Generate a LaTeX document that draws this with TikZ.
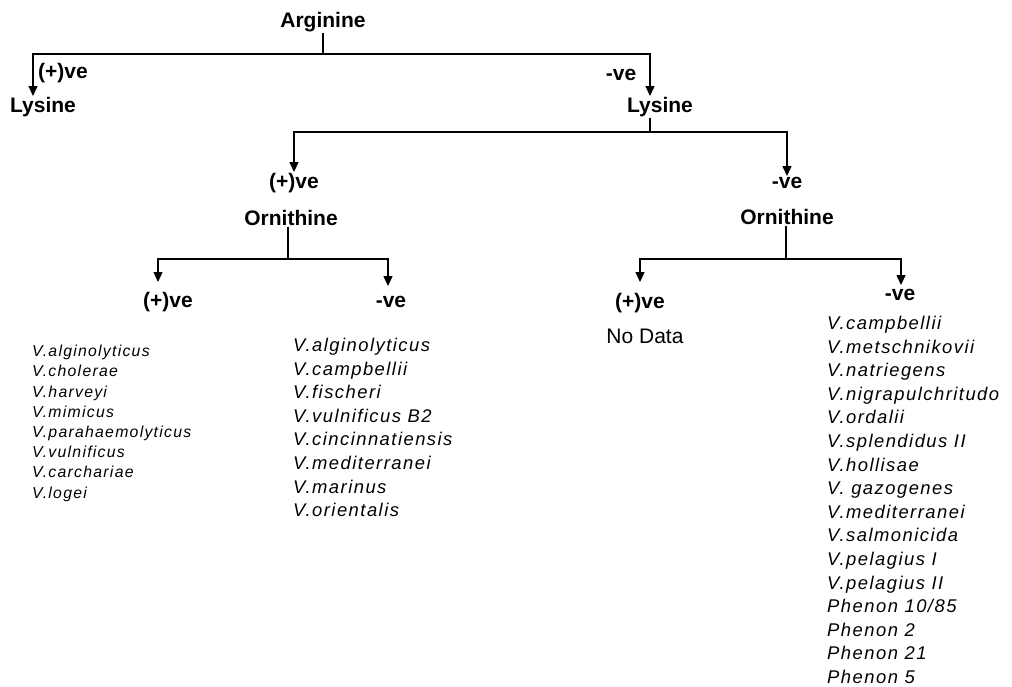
\documentclass[tikz,border=0pt]{standalone}
\usepackage{fontspec}
\setmainfont{Liberation Sans}
\newfontfamily\taxafont[LetterSpace=8]{Liberation Sans}
\usetikzlibrary{arrows.meta}
\tikzset{
    test/.style={font=\bfseries\fontsize{21}{24}\selectfont, inner sep=1pt},
    taxa/.style={font=\taxafont\itshape\fontsize{18.4}{23.6}\selectfont, align=left, anchor=north west, inner sep=0pt},
    taxa small/.style={taxa, font=\taxafont\itshape\fontsize{15.8}{20.2}\selectfont},
    stem/.style={line width=1.3pt},
    branch/.style={stem, -{Triangle[length=10pt,width=9pt]}},
}

\begin{document}
\begin{tikzpicture}[x=1pt, y=-1pt]
    \useasboundingbox (0,0) rectangle (1012,686);
    % level 1
    \node[test] (arg) at (323,22) {Arginine};
    \node[test, anchor=west] (posA) at (37,73) {(+)ve};
    \node[test] (lysA) at (43,107) {Lysine};
    \node[test] (negA) at (621,75) {-ve};
    \node[test] (lysB) at (660,107) {Lysine};
    \coordinate (busA) at (323,54);
    \draw[branch] (arg) -- (busA) -| ([xshift=-10pt]lysA.north);
    \draw[branch] (busA) -| ([xshift=-10pt]lysB.north);
    % level 2
    \node[test] (posB) at (294,183) {(+)ve};
    \node[test] (ornA) at (291,218) {Ornithine};
    \node[test] (negB) at (787,183) {-ve};
    \node[test] (ornB) at (787,217) {Ornithine};
    \coordinate (busB) at (650,132);
    \draw[branch] (lysB.south -| busB) -- (busB) -| (posB.north);
    \draw[branch] (busB) -| (negB.north);
    % level 3
    \node[test] (posC) at (168,302) {(+)ve};
    \node[test] (negC) at (391,302) {-ve};
    \node[test] (posD) at (640,303) {(+)ve};
    \node[test] (negD) at (900,295) {-ve};
    \coordinate (busC) at (288,259);
    \coordinate (busD) at (786,259);
    \draw[branch] (ornA.south -| busC) -- (busC) -| ([xshift=-10pt,yshift=9pt]posC.north);
    \draw[branch] (busC) -| ([xshift=-3pt,yshift=9pt]negC.north);
    \draw[branch] (ornB.south -| busD) -- (busD) -| ([yshift=10pt]posD.north);
    \draw[branch] (busD) -| ([xshift=1pt,yshift=3pt]negD.north);
    % species
    \node[taxa small] (listC) at (32,345) {V.alginolyticus\\V.cholerae\\V.harveyi\\V.mimicus\\V.parahaemolyticus\\V.vulnificus\\V.carchariae\\V.logei};
    \node[taxa] (listN) at (293,338) {V.alginolyticus\\V.campbellii\\V.fischeri\\V.vulnificus B2\\V.cincinnatiensis\\V.mediterranei\\V.marinus\\V.orientalis};
    \node[font=\fontsize{21}{24}\selectfont, inner sep=1pt] (nodata) at (645,336) {No Data};
    \node[taxa] (listD) at (827,316) {V.campbellii\\V.metschnikovii\\V.natriegens\\V.nigrapulchritudo\\V.ordalii\\V.splendidus II\\V.hollisae\\V. gazogenes\\V.mediterranei\\V.salmonicida\\V.pelagius I\\V.pelagius II\\Phenon 10/85\\Phenon 2\\Phenon 21\\Phenon 5};
\end{tikzpicture}
\end{document}
